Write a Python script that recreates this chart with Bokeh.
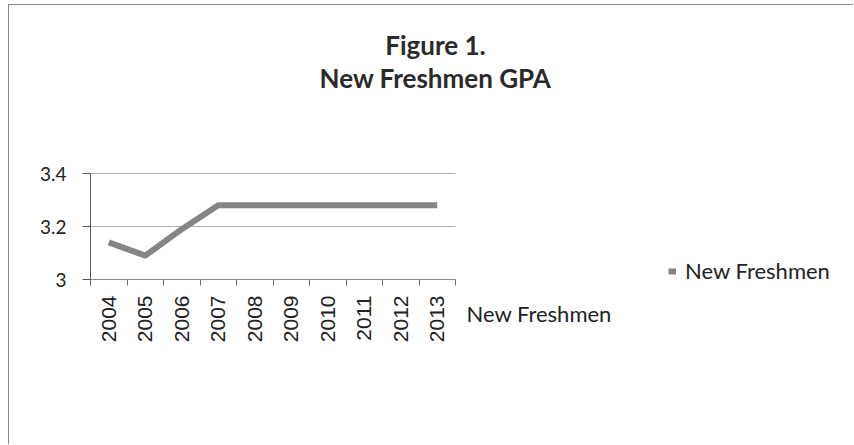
import math
from bokeh.plotting import figure
from bokeh.models import (Range1d, FixedTicker, Label, Legend, LegendItem,
                          ColumnDataSource)
from bokeh.embed import file_html
from bokeh.resources import INLINE

# ---- data ----
years = ["2004", "2005", "2006", "2007", "2008", "2009", "2010", "2011", "2012", "2013"]
gpa = [3.14, 3.09, 3.19, 3.28, 3.28, 3.28, 3.28, 3.28, 3.28, 3.28]
y_ticks = [3.0, 3.2, 3.4]
y_tick_labels = ["3", "3.2", "3.4"]
series_name = "New Freshmen"
title_lines = ["Figure 1.", "New Freshmen GPA"]

# ---- layout constants (page pixels) ----
FIG_X0, FIG_Y0 = 9, 5          # canvas origin on the page (after border)
W, H = 845, 440                # canvas size
AXIS_X = 90                    # page x of the value axis (category edge -0.5)
STEP = 36.5                    # px per category
Y_BASE = 279                   # page y of value 3.0
PX_PER_UNIT = 265.0            # px per 1.0 GPA


def sx(page_x):
    return page_x - FIG_X0


def sy(page_y):
    return FIG_Y0 + H - page_y


x_pos = list(range(len(years)))
src = ColumnDataSource(dict(x=x_pos, y=gpa, year=years))

x_start = -0.5 - (AXIS_X - FIG_X0) / STEP
y_start = y_ticks[0] - (FIG_Y0 + H - Y_BASE) / PX_PER_UNIT

p = figure(width=W, height=H,
           x_range=Range1d(x_start, x_start + W / STEP),
           y_range=Range1d(y_start, y_start + H / PX_PER_UNIT),
           output_backend="svg", toolbar_location=None,
           min_border_left=0, min_border_right=0,
           min_border_top=0, min_border_bottom=0)
p.styles = {"margin": "4px 0 0 8px",
            "border-top": "1px solid #8a8a8a", "border-left": "1px solid #8a8a8a"}
p.outline_line_color = None
p.background_fill_color = "white"
p.border_fill_color = "white"

# x axis (category axis) drawn at value 3.0
xa = p.xaxis[0]
xa.fixed_location = y_ticks[0]
xa.bounds = (-0.5, len(years) - 0.5)
xa.ticker = FixedTicker(ticks=x_pos, minor_ticks=[i - 0.5 for i in range(len(years) + 1)])
xa.major_label_overrides = {i: y for i, y in enumerate(years)}
xa.major_label_orientation = math.pi / 2
xa.major_tick_out = 0
xa.major_tick_in = 0
xa.minor_tick_out = 6
xa.minor_tick_in = 0
xa.minor_tick_line_color = "#6a6a6a"
xa.axis_line_color = "#8a8a8a"
xa.major_label_text_font = "Liberation Sans"
xa.major_label_text_font_size = "21px"
xa.major_label_text_color = "#222222"
xa.major_label_standoff = 10

# value axis drawn at the left category edge
ya = p.yaxis[0]
ya.fixed_location = -0.5
ya.bounds = (y_ticks[0], y_ticks[-1])
ya.ticker = FixedTicker(ticks=y_ticks)
ya.major_label_overrides = {t: s for t, s in zip(y_ticks, y_tick_labels)}
ya.major_tick_out = 8
ya.major_tick_in = 0
ya.minor_tick_line_color = None
ya.axis_line_color = "#555555"
ya.major_tick_line_color = "#555555"
ya.major_label_text_font = "Lato"
ya.major_label_text_font_size = "19px"
ya.major_label_text_color = "#222222"
ya.major_label_standoff = 16

p.xgrid.visible = False
p.ygrid.ticker = FixedTicker(ticks=y_ticks)
p.ygrid.cross_bounds = (-0.5, len(years) - 0.5)
p.ygrid.grid_line_color = "#b0b0b0"

r = p.line("x", "y", source=src, line_color="#858585", line_width=6)

legend = Legend(items=[LegendItem(label=series_name, renderers=[r])],
                location=(sx(668), sy(284)), glyph_width=8, glyph_height=8,
                label_text_font="Lato", label_text_font_size="22px",
                label_text_color="#222222",
                padding=0, margin=0, spacing=0, label_standoff=9,
                border_line_color=None, background_fill_alpha=0)
p.add_layout(legend)

p.add_layout(Label(x=sx(466), y=sy(313), x_units="screen", y_units="screen",
                   text=series_name, text_font="Lato", text_font_size="22px",
                   text_color="#222222", text_baseline="middle"))

for txt, py in zip(title_lines, [44, 77]):
    p.add_layout(Label(x=sx(435), y=sy(py), x_units="screen", y_units="screen",
                       text=txt, text_font="Lato", text_font_size="26px",
                       text_font_style="bold", text_color="#2a2a2a",
                       text_align="center", text_baseline="middle"))

open("out.html", "w").write(file_html(p, INLINE))
